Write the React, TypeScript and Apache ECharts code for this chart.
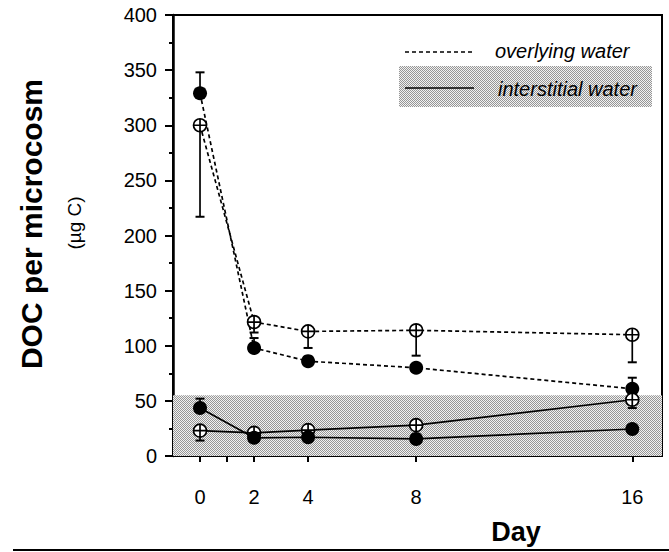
import React, { useEffect, useRef } from "react";
import * as echarts from "echarts";

const days = [0, 2, 4, 8, 16];
const overlyingOpen = [300, 121.5, 113, 114, 110];
const overlyingFilled = [329, 98, 86, 80, 61];
const interstitialOpen = [23, 21, 23.5, 28, 51];
const interstitialFilled = [43.5, 16.5, 17, 15.5, 24.5];
const overlyingOpenErr = [217, 112, 98, 91, 85];
const overlyingFilledErr = [348, 107, null, null, 71];
const interstitialOpenErr = [14, null, null, null, 43.5];
const interstitialFilledErr = [52, null, null, null, null];
const bandRange = [0, 55];
const xTickValues = [0, 1, 2, 4, 8, 16];
const xLabelValues = [0, 2, 4, 8, 16];
const yMin = 0;
const yMax = 400;
const yInterval = 50;

const FONT = "'Liberation Sans', Arial, Helvetica, sans-serif";
const OPEN_SYMBOL =
  "path://M10 0 A10 10 0 1 1 10 20 A10 10 0 1 1 10 0 Z M0 10 L20 10 M10 0 L10 20";

function makeStipple(): any {
  const c = document.createElement("canvas");
  c.width = 2;
  c.height = 2;
  const ctx = c.getContext("2d");
  if (!ctx) return "#c4c4c4";
  ctx.fillStyle = "#f2f2f2";
  ctx.fillRect(0, 0, 2, 2);
  ctx.fillStyle = "#969696";
  ctx.fillRect(0, 0, 1, 1);
  ctx.fillRect(1, 1, 1, 1);
  return { image: c, repeat: "repeat" };
}

function pairs(vals: number[]) {
  return days.map((d, i) => [d, vals[i]]);
}
function errData(vals: number[], errs: (number | null)[]) {
  return days
    .map((d, i) => (errs[i] == null ? null : [d, vals[i], errs[i]]))
    .filter((v) => v !== null);
}

function errSeries(vals: number[], errs: (number | null)[]) {
  return {
    type: "custom",
    z: 1,
    silent: true,
    encode: { x: 0, y: [1, 2] },
    data: errData(vals, errs),
    renderItem: (_p: any, api: any) => {
      const x = api.value(0);
      const p0 = api.coord([x, api.value(1)]);
      const p1 = api.coord([x, api.value(2)]);
      return {
        type: "group",
        children: [
          {
            type: "line",
            shape: { x1: p0[0], y1: p0[1], x2: p1[0], y2: p1[1] },
            style: { stroke: "#000", lineWidth: 1.7 },
          },
          {
            type: "line",
            shape: { x1: p1[0] - 4.5, y1: p1[1], x2: p1[0] + 4.5, y2: p1[1] },
            style: { stroke: "#000", lineWidth: 2 },
          },
        ],
      };
    },
  };
}

function lineSeries(name: string, vals: number[], open: boolean, dashed: boolean) {
  return {
    name,
    type: "line",
    z: 3,
    data: pairs(vals),
    symbol: open ? OPEN_SYMBOL : "circle",
    symbolSize: open ? 13 : 14,
    itemStyle: open
      ? { color: "#fff", borderColor: "#000", borderWidth: 1.7 }
      : { color: "#000", borderColor: "#000", borderWidth: 0 },
    lineStyle: {
      color: "#000",
      width: 1.7,
      type: dashed ? [4, 3] : "solid",
    },
  };
}

export default function App() {
  const ref = useRef<HTMLDivElement>(null);
  useEffect(() => {
    if (!ref.current) return;
    const chart = echarts.init(ref.current, undefined, { renderer: "svg" });
    const stipple = makeStipple();
    const option: any = {
      animation: false,
      backgroundColor: "#fff",
      grid: {
        left: 173,
        right: 7,
        top: 15,
        bottom: 96,
        show: true,
        borderColor: "#000",
        borderWidth: 2,
        backgroundColor: "transparent",
      },
      xAxis: {
        type: "value",
        min: -1,
        max: 17.1,
        splitLine: { show: false },
        axisLine: { show: true, onZero: false, lineStyle: { color: "#000", width: 2 } },
        axisTick: {
          show: true,
          customValues: xTickValues,
          length: 6,
          lineStyle: { color: "#000", width: 2 },
        },
        axisLabel: {
          customValues: xLabelValues,
          margin: 31,
          color: "#000",
          fontSize: 20,
          fontFamily: FONT,
        },
      },
      yAxis: {
        type: "value",
        min: yMin,
        max: yMax,
        interval: yInterval,
        splitLine: { show: false },
        axisLine: { show: true, onZero: false, lineStyle: { color: "#000", width: 2.5 } },
        axisTick: { show: true, length: 8, lineStyle: { color: "#000", width: 2 } },
        minorTick: { show: true, splitNumber: 2, length: 4, lineStyle: { color: "#000", width: 2 } },
        axisLabel: {
          margin: 16,
          color: "#000",
          fontSize: 20,
          fontFamily: FONT,
        },
      },
      graphic: [
        {
          type: "text",
          x: 31,
          y: 224,
          rotation: Math.PI / 2,
          style: {
            text: "DOC per microcosm",
            fontSize: 30,
            fontWeight: "bold",
            fontFamily: FONT,
            fill: "#000",
            textAlign: "center",
            textVerticalAlign: "middle",
            align: "center",
            verticalAlign: "middle",
          },
        },
        {
          type: "text",
          x: 74,
          y: 223,
          rotation: Math.PI / 2,
          style: {
            text: "(µg C)",
            fontSize: 19,
            fontFamily: FONT,
            fill: "#000",
            textAlign: "center",
            textVerticalAlign: "middle",
            align: "center",
            verticalAlign: "middle",
          },
        },
        {
          type: "text",
          x: 516,
          y: 532,
          style: {
            text: "Day",
            fontSize: 27,
            fontWeight: "bold",
            fontFamily: FONT,
            fill: "#000",
            textAlign: "center",
            textVerticalAlign: "middle",
            align: "center",
            verticalAlign: "middle",
          },
        },
        {
          type: "line",
          shape: { x1: 13, y1: 550, x2: 669, y2: 550 },
          style: { stroke: "#000", lineWidth: 2 },
        },
        {
          type: "rect",
          shape: { x: 399, y: 66, width: 253, height: 41 },
          style: { fill: stipple },
          z: 10,
        },
        {
          type: "line",
          shape: { x1: 405, y1: 52, x2: 472, y2: 52 },
          style: { stroke: "#000", lineWidth: 1.5, lineDash: [4, 3] },
          z: 11,
        },
        {
          type: "line",
          shape: { x1: 405, y1: 88, x2: 474, y2: 88 },
          style: { stroke: "#000", lineWidth: 1.7 },
          z: 11,
        },
        {
          type: "text",
          x: 495,
          y: 51,
          z: 11,
          style: {
            text: "overlying water",
            fontSize: 20,
            fontStyle: "italic",
            fontFamily: FONT,
            fill: "#000",
            textAlign: "left",
            textVerticalAlign: "middle",
            align: "left",
            verticalAlign: "middle",
          },
        },
        {
          type: "text",
          x: 498,
          y: 89,
          z: 11,
          style: {
            text: "interstitial water",
            fontSize: 20,
            fontStyle: "italic",
            fontFamily: FONT,
            fill: "#000",
            textAlign: "left",
            textVerticalAlign: "middle",
            align: "left",
            verticalAlign: "middle",
          },
        },
      ],
      series: [
        {
          type: "line",
          data: [],
          silent: true,
          z: 0,
          markArea: {
            silent: true,
            itemStyle: { color: stipple },
            data: [[{ yAxis: bandRange[0] }, { yAxis: bandRange[1] }]],
          },
        },
        errSeries(overlyingOpen, overlyingOpenErr),
        errSeries(overlyingFilled, overlyingFilledErr),
        errSeries(interstitialOpen, interstitialOpenErr),
        errSeries(interstitialFilled, interstitialFilledErr),
        lineSeries("overlying water (open)", overlyingOpen, true, true),
        lineSeries("overlying water (filled)", overlyingFilled, false, true),
        lineSeries("interstitial water (open)", interstitialOpen, true, false),
        lineSeries("interstitial water (filled)", interstitialFilled, false, false),
      ],
    };
    chart.setOption(option);
    return () => chart.dispose();
  }, []);
  return (
    <div
      ref={ref}
      style={{ position: "absolute", left: 0, top: 0, width: 669, height: 552 }}
    />
  );
}
